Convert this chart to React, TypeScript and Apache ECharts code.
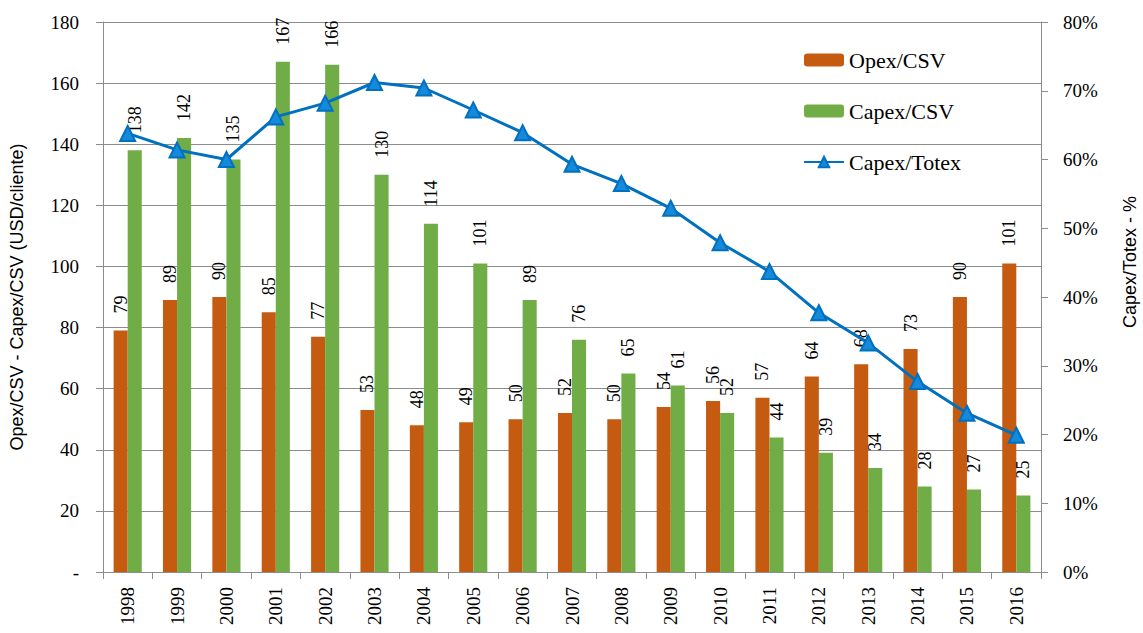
import React, { useEffect, useRef } from "react";
import * as echarts from "echarts";

const years = ["1998", "1999", "2000", "2001", "2002", "2003", "2004", "2005", "2006", "2007", "2008", "2009", "2010", "2011", "2012", "2013", "2014", "2015", "2016"];
const opexCsv = [79, 89, 90, 85, 77, 53, 48, 49, 50, 52, 50, 54, 56, 57, 64, 68, 73, 90, 101];
const capexCsv = [138, 142, 135, 167, 166, 130, 114, 101, 89, 76, 65, 61, 52, 44, 39, 34, 28, 27, 25];
const capexTotexPct = [63.8, 61.4, 60.0, 66.2, 68.2, 71.2, 70.4, 67.2, 63.9, 59.3, 56.5, 52.9, 47.9, 43.7, 37.7, 33.3, 27.7, 23.1, 19.9];

const leftTitle = "Opex/CSV - Capex/CSV (USD/cliente)";
const rightTitle = "Capex/Totex - %";
const seriesNames = ["Opex/CSV", "Capex/CSV", "Capex/Totex"];

const SERIF = "Liberation Serif";
const SANS = "Liberation Sans";
const GRID = "#8c8c8c";

export default function App() {
  const ref = useRef<HTMLDivElement>(null);
  useEffect(() => {
    if (!ref.current) return;
    const chart = echarts.init(ref.current, undefined, { renderer: "svg" });
    const barLabel = {
      show: true,
      position: "top",
      rotate: 90,
      align: "left",
      verticalAlign: "middle",
      distance: 17,
      fontFamily: SERIF,
      fontSize: 18,
      color: "#000",
    };
    chart.setOption({
      animation: false,
      backgroundColor: "#fff",
      textStyle: { fontFamily: SERIF },
      grid: { left: 102, right: 102, top: 22, bottom: 61, containLabel: false },
      legend: {
        orient: "vertical",
        left: 803,
        top: 49,
        padding: 0,
        itemWidth: 40,
        itemHeight: 13,
        itemGap: 29,
        data: seriesNames,
        textStyle: { fontFamily: SERIF, fontSize: 22, color: "#000", lineHeight: 22 },
      },
      xAxis: {
        type: "category",
        data: years,
        boundaryGap: true,
        axisLine: { lineStyle: { color: GRID, width: 1 } },
        axisTick: { show: true, length: 7, interval: 0, lineStyle: { color: GRID } },
        axisLabel: { rotate: 90, margin: 15, interval: 0, fontFamily: SERIF, fontSize: 19, color: "#000" },
      },
      yAxis: [
        {
          type: "value",
          min: 0,
          max: 180,
          interval: 20,
          name: leftTitle,
          nameLocation: "middle",
          nameGap: 77,
          nameTextStyle: { fontFamily: SANS, fontSize: 18, color: "#000" },
          axisLine: { show: true, lineStyle: { color: GRID } },
          axisTick: { show: true, length: 7, lineStyle: { color: GRID } },
          axisLabel: {
            margin: 24,
            fontFamily: SERIF,
            fontSize: 19,
            color: "#000",
            formatter: (v: number) => (v === 0 ? "-" : String(v)),
          },
          splitLine: { show: true, lineStyle: { color: GRID, width: 1 } },
        },
        {
          type: "value",
          min: 0,
          max: 80,
          interval: 10,
          position: "right",
          axisLine: { show: true, lineStyle: { color: GRID } },
          axisTick: { show: true, length: 7, lineStyle: { color: GRID } },
          axisLabel: { margin: 22, fontFamily: SERIF, fontSize: 19, color: "#000", formatter: "{value}%" },
          splitLine: { show: false },
        },
      ],
      graphic: [
        {
          type: "text",
          x: 1130,
          y: 262,
          rotation: Math.PI / 2,
          style: {
            text: rightTitle,
            fontFamily: SANS,
            fontSize: 18,
            fill: "#000",
            align: "center",
            verticalAlign: "middle",
          },
        },
      ],
      series: [
        {
          name: seriesNames[0],
          type: "bar",
          data: opexCsv,
          barGap: "0%",
          barCategoryGap: "43%",
          itemStyle: { color: "#C55A11" },
          label: barLabel,
        },
        {
          name: seriesNames[1],
          type: "bar",
          data: capexCsv,
          barGap: "0%",
          barCategoryGap: "43%",
          itemStyle: { color: "#70AD47" },
          label: barLabel,
        },
        {
          name: seriesNames[2],
          type: "line",
          yAxisIndex: 1,
          data: capexTotexPct,
          symbol: "triangle",
          symbolSize: 15,
          lineStyle: { color: "#0070C0", width: 3 },
          itemStyle: { color: "#1589DA", borderColor: "#0070C0", borderWidth: 2 },
          z: 5,
        },
      ],
    });
    return () => chart.dispose();
  }, []);
  return <div ref={ref} style={{ position: "fixed", left: 0, top: 0, width: 1143, height: 633 }} />;
}
